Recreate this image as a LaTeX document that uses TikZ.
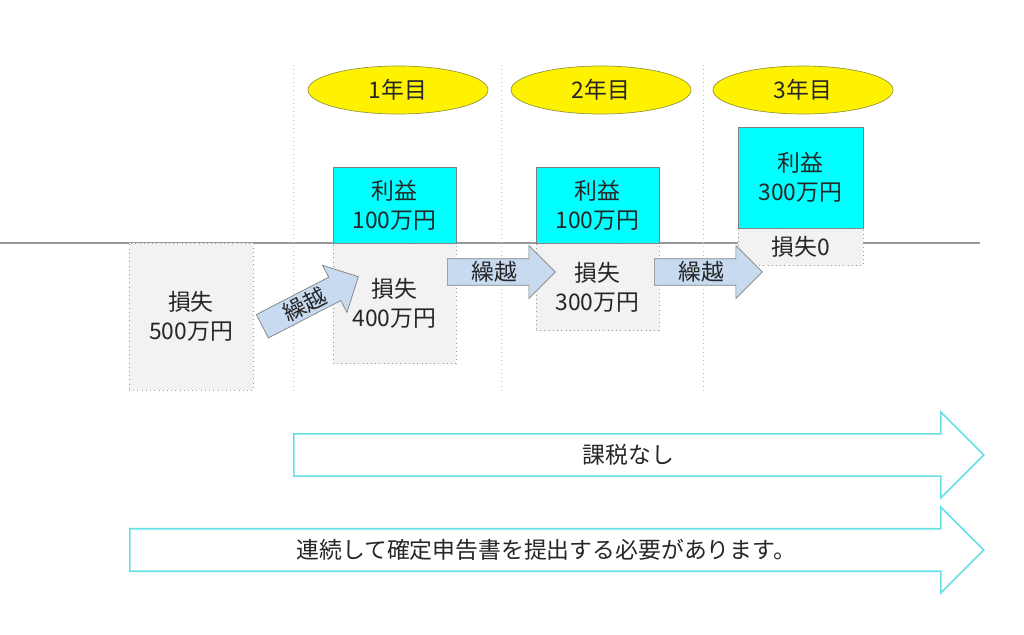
\documentclass[tikz,border=0pt]{standalone}
\usepackage{fontspec}
\usepackage{tikz}
\usetikzlibrary{shapes.geometric,shapes.arrows,positioning}
\newfontfamily\jpfont{Noto Sans CJK JP}
\definecolor{lossgray}{RGB}{242,242,242}
\definecolor{gaincyan}{RGB}{0,255,255}
\definecolor{carryblue}{RGB}{200,218,240}
\definecolor{bandcyan}{RGB}{100,224,230}
\definecolor{yearedge}{RGB}{150,150,60}

\begin{document}
\begin{tikzpicture}[x=0.2mm,y=-0.2mm,
    every node/.style={font=\jpfont\fontsize{13}{16.5}\selectfont,text=black!85,align=center,inner sep=0pt},
    year/.style={ellipse,draw=yearedge,fill=yellow,minimum width=3.6cm,minimum height=0.96cm},
    gain/.style={draw=gray,fill=gaincyan,minimum width=2.46cm},
    loss/.style={draw=gray!80,dotted,fill=lossgray,minimum width=2.46cm},
    carry/.style={single arrow,draw=gray,fill=carryblue,inner ysep=0.02cm,minimum height=2.16cm,minimum width=1.06cm,single arrow head extend=0.24cm},
    band/.style={single arrow,draw=bandcyan,line width=0.9pt,fill=white,inner ysep=0.17cm,minimum width=1.72cm,single arrow head extend=0.41cm}]
    \useasboundingbox (0,0) rectangle (1024,634);
    \draw[gray!80,line width=0.6pt] (0,243) -- (980,243);
    \foreach \x in {293,501,703}
      \draw[gray!50,dotted] (\x,65) -- (\x,390);
    \node[year] (year1) at (398,90) {1年目};
    \node[year] (year2) at (601,90) {2年目};
    \node[year] (year3) at (803,90) {3年目};
    \node[loss,minimum width=2.48cm,minimum height=2.94cm] (loss0) at (191,316.5) {損失\\500万円};
    \node[gain,minimum height=1.52cm] (gain1) at (394.5,205) {利益\\100万円};
    \node[loss,minimum height=2.4cm,anchor=north] (loss1) at (gain1.south) {損失\\400万円};
    \node[gain,minimum height=1.52cm] (gain2) at (597.5,205) {利益\\100万円};
    \node[loss,minimum height=1.74cm,anchor=north] (loss2) at (gain2.south) {損失\\300万円};
    \node[gain,minimum width=2.5cm,minimum height=2.02cm] (gain3) at (800.5,177.5) {利益\\300万円};
    \node[loss,minimum width=2.5cm,minimum height=0.74cm,anchor=north] (loss3) at (gain3.south) {損失0};
    \node[carry,rotate=27.3] (carry1) at (304.5,304.5) {繰越};
    \node[carry,anchor=tail] (carry2) at (447,272) {繰越};
    \node[carry,anchor=tail] (carry3) at (654,272) {繰越};
    \node[band,minimum height=13.8cm,anchor=tail] (notax) at (293,455) {課税なし};
    \node[band,minimum height=17.08cm,anchor=tail] (filing) at (129,550) {連続して確定申告書を提出する必要があります。};
\end{tikzpicture}
\end{document}
